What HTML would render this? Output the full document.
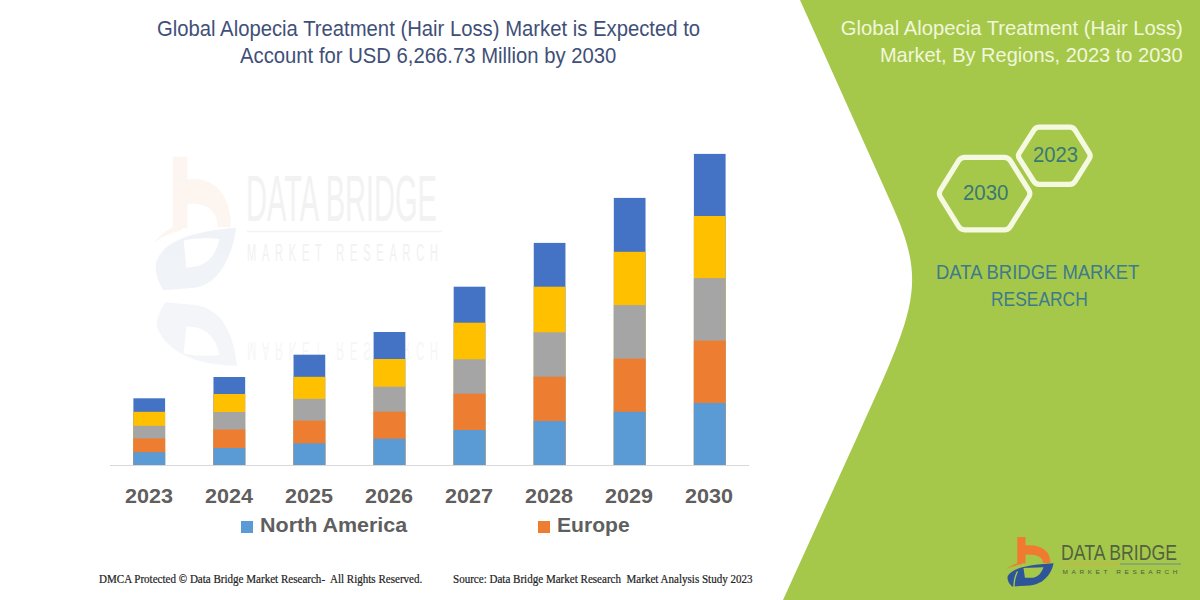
<!DOCTYPE html>
<html><head><meta charset="utf-8">
<style>
html,body{margin:0;padding:0;width:1200px;height:600px;overflow:hidden;background:#fff;}
body{position:relative;font-family:"Liberation Sans",sans-serif;}
.a{position:absolute;white-space:nowrap;line-height:1;}
#bg{position:absolute;left:0;top:0;width:1200px;height:600px;}
.title{color:#3f5078;font-size:19px;}
.rh{color:#f0f7dc;font-size:19px;}
.yr{color:#5f5f5f;font-size:19px;font-weight:bold;}
.lg{color:#5f5f5f;font-size:20px;font-weight:bold;}
.ft{font-family:"Liberation Serif",serif;color:#222;font-size:11px;-webkit-text-stroke:0.2px #222;}
.db{color:#3d7b8c;font-size:19px;}
</style></head>
<body>
<svg id="bg" width="1200" height="600" viewBox="0 0 1200 600">
<defs>
  <g id="lb">
    <rect x="17.3" y="7" width="8.2" height="26.5" fill="#f07a30"/>
    <path d="M25,15.5 C41,14 50.5,21 50.5,33 L43,33 C43,27 37,24 25,24.5 Z" fill="#f07a30"/>
    <path d="M6,39 Q13,33.5 22,32 L22,34.2 Q13,35.5 6,39 Z" fill="#f07a30"/>
    <path d="M7.6,46.6 C10,40 22,35 53.5,33.3 C52,42 45,54 30,55.5 L12,56.5 C9,54 7,50 7.6,46.6 Z" fill="#2e5597"/>
  </g>
</defs>
  <!-- green shape -->
  <path d="M800,0 L891.46,203.7 C927.2,283.3 916.9,305.7 858.2,434.73 L783,600 L1200,600 L1200,0 Z" fill="#a6c84a"/>
  <!-- watermark -->
  <g opacity="0.07" transform="translate(142.7,137.8) scale(1.745,2.7)">
    <use href="#lb"/>
  </g>
  <path d="M23.5,38 C30,37 38,37 44,37.5 C42,44 36,48 25,48 Z" fill="#fff" transform="translate(142.7,137.8) scale(1.745,2.7)"/>
  <g opacity="0.05" transform="translate(142.7,456.2) scale(1.745,-2.7)">
    <path d="M8,48 C14,38 32,33.5 54,33.5 C52,45 46,54.5 30,56 L13,57 C10,54 8,51 8,48 Z" fill="#2e5597"/>
    <path d="M23.5,38 C30,37 38,37 44,37.5 C42,44 36,48 25,48 Z" fill="#fff"/>
  </g>
  <text x="246" y="221.4" font-family="Liberation Sans" font-size="64" textLength="191" lengthAdjust="spacingAndGlyphs" fill="#f2f2f2">DATA BRIDGE</text>
  <line x1="247" y1="231.5" x2="442" y2="231.5" stroke="#f3f3f3" stroke-width="1.5"/>
  <text transform="translate(247,260.8) scale(1,2.2)" font-family="Liberation Sans" font-size="11" textLength="191" lengthAdjust="spacing" fill="#f1f1f1">MARKET RESEARCH</text>
  <text transform="translate(247,342) scale(1,-2.4)" font-family="Liberation Sans" font-size="11" textLength="191" lengthAdjust="spacing" fill="#f6f6f6">MARKET RESEARCH</text>
  <!-- axis -->
  <line x1="110" y1="465.5" x2="749" y2="465.5" stroke="#d9d9d9" stroke-width="1"/>
  <g id="bars">
<rect x="133.40" y="398.3" width="31.7" height="66.7" fill="#4472c4"/>
<rect x="133.40" y="411.8" width="31.7" height="53.2" fill="#ffc000"/>
<rect x="133.40" y="425.8" width="31.7" height="39.2" fill="#a5a5a5"/>
<rect x="133.40" y="438.4" width="31.7" height="26.6" fill="#ed7d31"/>
<rect x="133.40" y="452.2" width="31.7" height="12.8" fill="#5b9bd5"/>
<rect x="213.47" y="377" width="31.7" height="88.0" fill="#4472c4"/>
<rect x="213.47" y="394" width="31.7" height="71.0" fill="#ffc000"/>
<rect x="213.47" y="412" width="31.7" height="53.0" fill="#a5a5a5"/>
<rect x="213.47" y="429.5" width="31.7" height="35.5" fill="#ed7d31"/>
<rect x="213.47" y="448" width="31.7" height="17.0" fill="#5b9bd5"/>
<rect x="293.54" y="354.7" width="31.7" height="110.3" fill="#4472c4"/>
<rect x="293.54" y="376.8" width="31.7" height="88.2" fill="#ffc000"/>
<rect x="293.54" y="398.9" width="31.7" height="66.1" fill="#a5a5a5"/>
<rect x="293.54" y="420.6" width="31.7" height="44.4" fill="#ed7d31"/>
<rect x="293.54" y="443.3" width="31.7" height="21.7" fill="#5b9bd5"/>
<rect x="373.61" y="332" width="31.7" height="133.0" fill="#4472c4"/>
<rect x="373.61" y="359" width="31.7" height="106.0" fill="#ffc000"/>
<rect x="373.61" y="386.7" width="31.7" height="78.3" fill="#a5a5a5"/>
<rect x="373.61" y="411.7" width="31.7" height="53.3" fill="#ed7d31"/>
<rect x="373.61" y="438.7" width="31.7" height="26.3" fill="#5b9bd5"/>
<rect x="453.68" y="286.7" width="31.7" height="178.3" fill="#4472c4"/>
<rect x="453.68" y="322.7" width="31.7" height="142.3" fill="#ffc000"/>
<rect x="453.68" y="359.3" width="31.7" height="105.7" fill="#a5a5a5"/>
<rect x="453.68" y="393.7" width="31.7" height="71.3" fill="#ed7d31"/>
<rect x="453.68" y="430" width="31.7" height="35.0" fill="#5b9bd5"/>
<rect x="533.75" y="242.9" width="31.7" height="222.1" fill="#4472c4"/>
<rect x="533.75" y="286.7" width="31.7" height="178.3" fill="#ffc000"/>
<rect x="533.75" y="332.3" width="31.7" height="132.7" fill="#a5a5a5"/>
<rect x="533.75" y="376.7" width="31.7" height="88.3" fill="#ed7d31"/>
<rect x="533.75" y="421" width="31.7" height="44.0" fill="#5b9bd5"/>
<rect x="613.82" y="197.9" width="31.7" height="267.1" fill="#4472c4"/>
<rect x="613.82" y="251.8" width="31.7" height="213.2" fill="#ffc000"/>
<rect x="613.82" y="305.1" width="31.7" height="159.9" fill="#a5a5a5"/>
<rect x="613.82" y="358.6" width="31.7" height="106.4" fill="#ed7d31"/>
<rect x="613.82" y="411.8" width="31.7" height="53.2" fill="#5b9bd5"/>
<rect x="693.89" y="153.9" width="31.7" height="311.1" fill="#4472c4"/>
<rect x="693.89" y="216" width="31.7" height="249.0" fill="#ffc000"/>
<rect x="693.89" y="278.1" width="31.7" height="186.9" fill="#a5a5a5"/>
<rect x="693.89" y="340.6" width="31.7" height="124.4" fill="#ed7d31"/>
<rect x="693.89" y="403" width="31.7" height="62.0" fill="#5b9bd5"/>
</g>
  <!-- hexagons -->
  <path d="M940.4,190.2 L958.7,160.7 Q960.8,157.3 964.8,157.3 L1004.2,157.3 Q1008.2,157.3 1010.3,160.7 L1028.8,190.2 Q1030.9,193.6 1028.8,197.0 L1010.3,226.5 Q1008.2,229.9 1004.2,229.9 L964.8,229.9 Q960.8,229.9 958.7,226.5 L940.4,197.0 Q938.3,193.6 940.4,190.2 Z" fill="none" stroke="#f5f9e2" stroke-width="5.2"/>
  <path d="M1019.4,152.9 L1033.9,130.1 Q1035.8,127.2 1039.3,127.2 L1069.7,127.2 Q1073.2,127.2 1075.1,130.2 L1089.2,152.8 Q1091.1,155.8 1089.2,158.8 L1075.1,181.4 Q1073.2,184.4 1069.7,184.4 L1039.3,184.4 Q1035.8,184.4 1033.9,181.5 L1019.4,158.7 Q1017.5,155.8 1019.4,152.9 Z" fill="none" stroke="#f5f9e2" stroke-width="5.2"/>
  <!-- bottom-right logo -->
  <g transform="translate(1000,530)">
    <use href="#lb"/>
    <path d="M23.5,38 L43.5,37.3 C42,42 38,47.5 33,47.7 L24.9,47.7 Z" fill="#a6c84a"/>
    <path d="M17.5,41.5 Q14,48 14,57" fill="none" stroke="#a6c84a" stroke-width="1.4"/>
    <line x1="1062" y1="564" x2="1120" y2="564" stroke="#c9b448" stroke-width="1.3" transform="translate(-1000,-530)"/>
    <line x1="1120" y1="564" x2="1181" y2="564" stroke="#7f9f74" stroke-width="1.3" transform="translate(-1000,-530)"/>
  </g>
  <text x="1061" y="560.2" font-family="Liberation Sans" font-size="22.5" textLength="116" lengthAdjust="spacingAndGlyphs" fill="#52633f">DATA BRIDGE</text>
  <text transform="translate(1062.5,573.8) scale(1,0.9)" font-family="Liberation Sans" font-size="6.5" textLength="115" lengthAdjust="spacing" fill="#4b5d3b">MARKET RESEARCH</text>
</svg>

<div class="a title" id="t1" style="left:157px;top:18.1px;font-size:21.8px;transform:scaleX(0.93);transform-origin:0 0;">Global Alopecia Treatment (Hair Loss) Market is Expected to</div>
<div class="a title" id="t2" style="left:240px;top:45.3px;font-size:21.8px;transform:scaleX(0.93);transform-origin:0 0;">Account for USD 6,266.73 Million by 2030</div>
<div class="a rh" id="r1" style="right:17px;top:17.12px;font-size:21px;transform:scaleX(0.964);transform-origin:100% 0;">Global Alopecia Treatment (Hair Loss)</div>
<div class="a rh" id="r2" style="right:17px;top:44.02px;font-size:21px;transform:scaleX(0.953);transform-origin:100% 0;">Market, By Regions, 2023 to 2030</div>
<div class="a db" id="h1" style="left:962.5px;top:183.3px;color:#3a7874;font-size:21.5px;transform:scaleX(0.95);transform-origin:0 0;">2030</div>
<div class="a db" id="h2" style="left:1032.5px;top:145.1px;color:#3a7874;font-size:21.4px;transform:scaleX(0.943);transform-origin:0 0;">2023</div>
<div class="a db" id="d1" style="left:936px;top:261.8px;font-size:20.8px;transform:scaleX(0.887);transform-origin:0 0;">DATA BRIDGE MARKET</div>
<div class="a db" id="d2" style="left:991px;top:288.5px;font-size:20.8px;transform:scaleX(0.837);transform-origin:0 0;">RESEARCH</div>
<div class="a yr" style="left:109.45px;width:80px;text-align:center;top:485.52px;font-size:20.35px;transform:scaleX(1.06);">2023</div>
<div class="a yr" style="left:189.45px;width:80px;text-align:center;top:485.52px;font-size:20.35px;transform:scaleX(1.06);">2024</div>
<div class="a yr" style="left:269.45px;width:80px;text-align:center;top:485.52px;font-size:20.35px;transform:scaleX(1.06);">2025</div>
<div class="a yr" style="left:349.45px;width:80px;text-align:center;top:485.52px;font-size:20.35px;transform:scaleX(1.06);">2026</div>
<div class="a yr" style="left:429.45px;width:80px;text-align:center;top:485.52px;font-size:20.35px;transform:scaleX(1.06);">2027</div>
<div class="a yr" style="left:509.45px;width:80px;text-align:center;top:485.52px;font-size:20.35px;transform:scaleX(1.06);">2028</div>
<div class="a yr" style="left:589.45px;width:80px;text-align:center;top:485.52px;font-size:20.35px;transform:scaleX(1.06);">2029</div>
<div class="a yr" style="left:669.45px;width:80px;text-align:center;top:485.52px;font-size:20.35px;transform:scaleX(1.06);">2030</div>
<div class="a" style="left:241px;top:520.5px;width:12px;height:12.5px;background:#5b9bd5;"></div>
<div class="a lg" id="l1" style="left:260px;top:514.6px;font-size:20.9px;transform:scaleX(1.028);transform-origin:0 0;">North America</div>
<div class="a" style="left:538.4px;top:520.5px;width:12px;height:12.5px;background:#ed7d31;"></div>
<div class="a lg" id="l2" style="left:557px;top:514.6px;font-size:20.9px;transform:scaleX(1.01);transform-origin:0 0;">Europe</div>
<div class="a ft" style="left:99px;top:574.1px;font-size:11.5px;transform:scaleX(0.96);transform-origin:0 0;">DMCA Protected © Data Bridge Market Research-&nbsp; All Rights Reserved.</div>
<div class="a ft" style="left:453px;top:574.1px;font-size:11.5px;transform:scaleX(0.96);transform-origin:0 0;">Source: Data Bridge Market Research&nbsp; Market Analysis Study 2023</div>
</body></html>
